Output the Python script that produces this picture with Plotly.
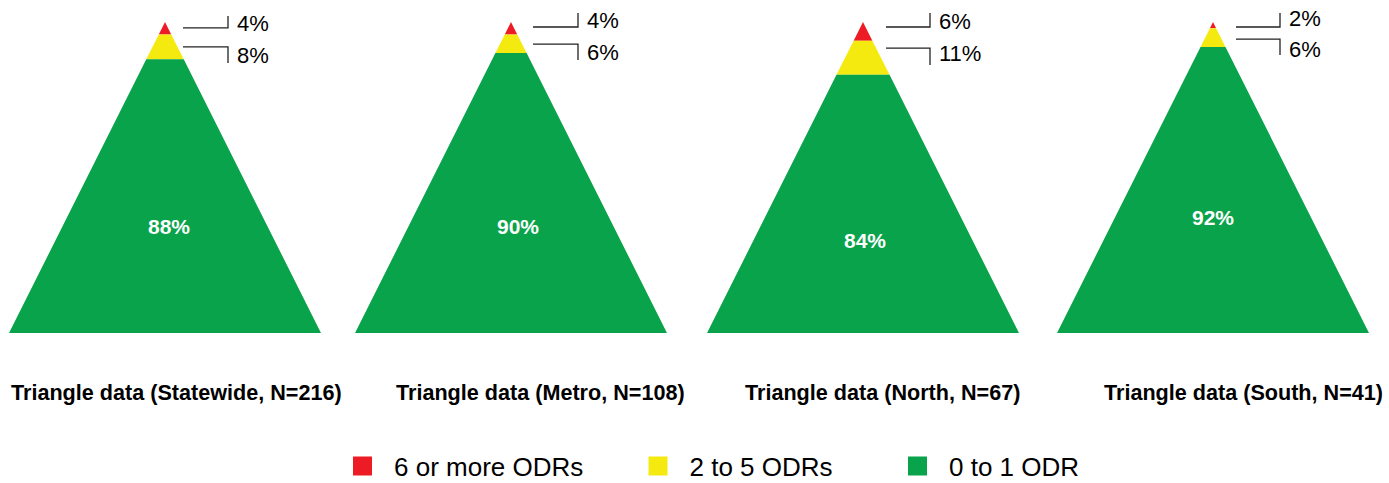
import plotly.graph_objects as go

# ---------------- data ----------------
regions = ["Statewide", "Metro", "North", "South"]
n_counts = [216, 108, 67, 41]
categories = ["6 or more ODRs", "2 to 5 ODRs", "0 to 1 ODR"]
pct_high = [4, 4, 6, 2]      # 6 or more ODRs (tip)
pct_mid = [8, 6, 11, 6]      # 2 to 5 ODRs
pct_low = [88, 90, 84, 92]   # 0 to 1 ODR (base)

# ---------------- styles / layout constants ----------------
COLORS = ["#ED1C24", "#F4EA10", "#08A34A"]
FONT = "Liberation Sans, Arial, sans-serif"
W, H = 1389, 483
APEX_PX, PX_PER_UNIT = 22, 3.11           # y axis: 0 = apex, 100 = base
TRI_CX = [165, 511, 863, 1213]            # triangle centres (x axis units)
HALF_BASE = 156
TITLE_CX = [176.5, 540, 882, 1243]
TITLE_V = 119.0
GREEN_DX = [4, 7, 2, 0]
GREEN_V = [65.9, 65.8, 70.4, 62.7]
LEAD_X0 = [18, 22, 23, 23]
LEAD_X1 = [63, 67, 67, 67]
LEAD_TOP_V = [1.9, 1.6, 1.6, 1.6]
LEAD_TOP_END_V = [-1.9, -2.9, -2.9, -2.9]
LEAD_BOT_V = [8.0, 7.1, 8.4, 5.5]
LEAD_BOT_END_V = [13.2, 12.2, 13.8, 10.6]
TXT_TOP_V = [0.4, -0.5, -0.3, -1.2]
TXT_BOT_V = [10.7, 9.9, 10.1, 8.7]
LEG_LEFT = [331, 626.5, 886]
LEG_Y = 466

fig = go.Figure()


def band(cx, a, b):
    ha, hb = HALF_BASE * a / 100.0, HALF_BASE * b / 100.0
    return ([cx - ha, cx + ha, cx + hb, cx - hb, cx - ha], [a, a, b, b, a])


# bands: tip [0, high], middle [high, high+mid], base [high+mid, 100]
for k, col in enumerate(COLORS):
    xs, ys = [], []
    for i in range(len(regions)):
        h, m = pct_high[i], pct_mid[i]
        bounds = [(0, h), (h, h + m), (h + m, 100)][k]
        bx, by = band(TRI_CX[i], *bounds)
        xs += bx + [None]
        ys += by + [None]
    fig.add_trace(go.Scatter(x=xs, y=ys, mode="lines", fill="toself",
                             fillcolor=col, line=dict(width=0, color=col),
                             hoverinfo="skip", showlegend=False))

# legend entries (one legend per item for exact placement)
legend_names = ["legend", "legend2", "legend3"]
for k, cat in enumerate(categories):
    fig.add_trace(go.Scatter(x=[None], y=[None], mode="markers", name=cat,
                             marker=dict(symbol="square", size=16, color=COLORS[k],
                                         line=dict(color=COLORS[k], width=3)),
                             legend=legend_names[k]))

shapes, annotations = [], []
for i in range(len(regions)):
    cx = TRI_CX[i]
    x0, x1 = cx + LEAD_X0[i], cx + LEAD_X1[i]
    for yv, yend, ytxt, val in [(LEAD_TOP_V[i], LEAD_TOP_END_V[i], TXT_TOP_V[i], pct_high[i]),
                                (LEAD_BOT_V[i], LEAD_BOT_END_V[i], TXT_BOT_V[i], pct_mid[i])]:
        shapes.append(dict(type="path", xref="x", yref="y",
                           path=f"M {x0},{yv} L {x1},{yv} L {x1},{yend}",
                           line=dict(color="#222222", width=1.3)))
        annotations.append(dict(x=x1 + 7, y=ytxt, xref="x", yref="y", text=f"{val}%",
                                showarrow=False, xanchor="left", yanchor="middle",
                                font=dict(family=FONT, size=22, color="black")))
    annotations.append(dict(x=cx + GREEN_DX[i], y=GREEN_V[i], xref="x", yref="y",
                            text=f"<b>{pct_low[i]}%</b>", showarrow=False,
                            xanchor="center", yanchor="middle",
                            font=dict(family=FONT, size=21, color="white")))
    annotations.append(dict(x=TITLE_CX[i], y=TITLE_V, xref="x", yref="y",
                            text=f"<b>Triangle data ({regions[i]}, N={n_counts[i]})</b>",
                            showarrow=False, xanchor="center", yanchor="middle",
                            font=dict(family=FONT, size=21.6, color="black")))

y_top = -APEX_PX / PX_PER_UNIT
y_bot = (H - APEX_PX) / PX_PER_UNIT

leg_common = dict(orientation="h", xanchor="left", yanchor="middle", y=1 - LEG_Y / H,
                  font=dict(family=FONT, size=26, color="black"),
                  bgcolor="rgba(0,0,0,0)", borderwidth=0, itemwidth=53)
fig.update_layout(
    width=W, height=H,
    margin=dict(l=0, r=0, t=0, b=0, autoexpand=False),
    paper_bgcolor="white", plot_bgcolor="white",
    xaxis=dict(range=[0, W], visible=False, fixedrange=True),
    yaxis=dict(range=[y_bot, y_top], visible=False, fixedrange=True),
    shapes=shapes, annotations=annotations,
    legend=dict(x=LEG_LEFT[0] / W, **leg_common),
    legend2=dict(x=LEG_LEFT[1] / W, **leg_common),
    legend3=dict(x=LEG_LEFT[2] / W, **leg_common),
)

fig.write_html("out.html", config={"displayModeBar": False},
               post_script="document.body.style.margin='0';document.body.style.overflow='hidden';")
